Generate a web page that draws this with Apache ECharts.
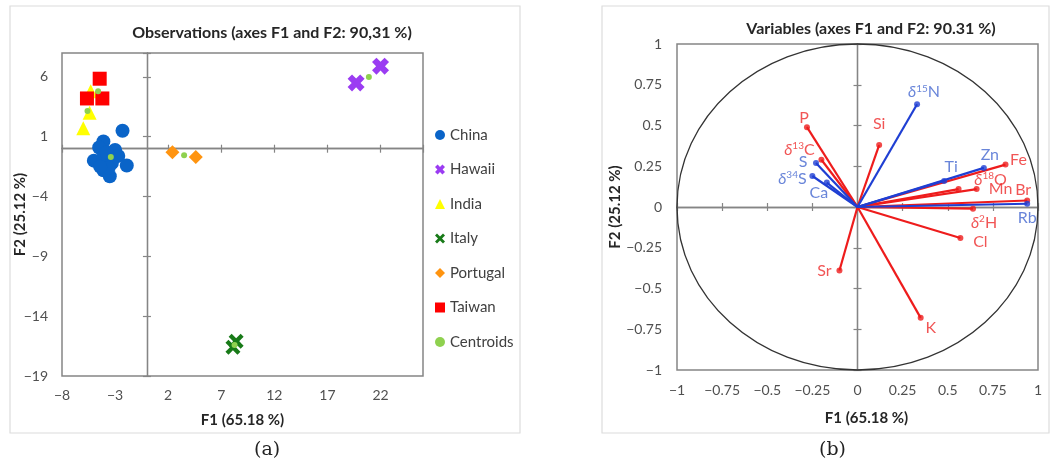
<!DOCTYPE html>
<html>
<head>
<meta charset="utf-8">
<script src="https://cdn.jsdelivr.net/npm/echarts@6/dist/echarts.min.js"></script>
<style>
html,body{margin:0;padding:0;background:#fff;}
#chart{width:1051px;height:466px;}
</style>
</head>
<body>
<div id="chart"></div>
<script>
// ---------- Data: observations (F1, F2) ----------
const china = [[-2.3,1.5],[-4.1,0.6],[-4.5,0.1],[-3.0,-0.1],[-2.7,-0.6],[-5.0,-1.0],[-4.1,-0.7],[-3.3,-1.2],[-1.9,-1.4],[-4.1,-1.8],[-3.5,-2.3],[-3.6,-1.6],[-4.4,-1.5],[-3.8,-0.3]];
const hawaii = [[19.7,5.5],[22.0,6.9]];
const india = [[-5.3,4.8],[-5.4,3.0],[-6.0,1.7]];
const italy = [[8.1,-16.6],[8.4,-16.1]];
const portugal = [[2.4,-0.3],[4.6,-0.7]];
const taiwan = [[-4.45,5.85],[-5.65,4.2],[-4.2,4.2]];
const centroids = [[-3.4,-0.7],[20.9,6.0],[-5.6,3.15],[8.25,-16.4],[3.5,-0.55],[-4.6,4.8]];

const obsXTicks = {min:-8, max:26, interval:5};
const obsYTicks = {min:-19, max:8, interval:5};

// ---------- Data: variables (loadings on F1, F2) ----------
const varNames = ['δ15N','P','Si','δ13C','S','δ34S','Ca','Zn','Fe','Ti','δ18O','Mn','Br','Rb','δ2H','Cl','Sr','K'];
const varF1    = [0.33,-0.28,0.12,-0.20,-0.23,-0.25,-0.17,0.70,0.82,0.48,0.56,0.66,0.94,0.94,0.64,0.57,-0.10,0.35];
const varF2    = [0.63,0.49,0.38,0.29,0.27,0.19,0.15,0.24,0.26,0.16,0.11,0.11,0.04,0.02,-0.01,-0.19,-0.39,-0.68];
const varGroup = ['b','r','r','r','b','b','b','b','r','b','r','r','r','b','r','r','r','r'];

const varTicks = {min:-1, max:1, interval:0.25};

// ---------- Styles ----------
const FONT = 'Lato, "Open Sans", sans-serif';
const GRAY = '#858585';
const TXT = '#505050';
const RED = '#ee1c1c', BLUE = '#1f3fd3';
const RED_T = '#ee2a2a', BLUE_T = '#4466d0';
const labelOffset = {'δ15N':[7,-12], 'P':[-3,-9], 'Si':[0,-21], 'δ13C':[-22,-10], 'S':[-13,-1], 'δ34S':[-20,3], 'Ca':[-8,10],
  'Zn':[6,-13], 'Fe':[13,-5], 'Ti':[7,-14], 'δ18O':[32,-9], 'Mn':[24,0], 'Br':[-4,-11], 'Rb':[0,14], 'δ2H':[11,14],
  'Cl':[20,4], 'Sr':[-15,0], 'K':[10,10]};
const xMark = 'path://M2,0 L5,3 L8,0 L10,2 L7,5 L10,8 L8,10 L5,7 L2,10 L0,8 L3,5 L0,2 Z';
const xMarkBold = 'path://M0,2.6 L2.6,0 L5,2.4 L7.4,0 L10,2.6 L7.6,5 L10,7.4 L7.4,10 L5,7.6 L2.6,10 L0,7.4 L2.4,5 Z';
const minus = v => String(v).replace('-', '\u2212');

function labelAxis(grid, t, pos, margin) {
  return {type:'value', gridIndex:grid, min:t.min, max:t.max, interval:t.interval, position:pos,
    axisLine:{show:false, onZero:false}, axisTick:{show:false}, splitLine:{show:false},
    axisLabel:{show:true, color:TXT, fontSize:14, fontFamily:FONT, margin:margin, formatter:minus,
      showMaxLabel: (t.max - t.min) % t.interval === 0}};
}
function zeroAxis(grid, t, pos) {
  return {type:'value', gridIndex:grid, min:t.min, max:t.max, interval:t.interval, position:pos,
    axisLine:{show:true, onZero:true, lineStyle:{color:GRAY, width:1.3}},
    axisTick:{show:true, length:4, lineStyle:{color:GRAY, width:1.2}},
    axisLabel:{show:false}, splitLine:{show:false}};
}
const nameStyle = {fontSize:15, fontWeight:'bold', color:'#262626', fontFamily:FONT};
function named(ax, gap, extra) {
  return Object.assign(ax, {name:'', nameLocation:'middle', nameGap:gap, nameMoveOverlap:false,
    nameTextStyle:Object.assign({}, nameStyle, extra || {})});
}

const xAxes = [
  Object.assign(named(labelAxis(0,obsXTicks,'bottom',12), 37), {name:'F1 (65.18 %)'}),
  zeroAxis(0,obsXTicks,'top'), zeroAxis(0,obsXTicks,'bottom'),
  Object.assign(named(labelAxis(1,varTicks,'bottom',13), 41, {padding:[0,0,0,18]}), {name:'F1 (65.18 %)'}),
  zeroAxis(1,varTicks,'top'), zeroAxis(1,varTicks,'bottom')
];
const yAxes = [
  Object.assign(named(labelAxis(0,obsYTicks,'left',14), 34), {name:'F2 (25.12 %)'}),
  zeroAxis(0,obsYTicks,'left'), zeroAxis(0,obsYTicks,'right'),
  Object.assign(named(labelAxis(1,varTicks,'left',15), 54), {name:'F2 (25.12 %)'}),
  zeroAxis(1,varTicks,'left'), zeroAxis(1,varTicks,'right')
];

function obsSeries(name, data, symbol, size, color) {
  return {type:'scatter', name:name, xAxisIndex:0, yAxisIndex:0, data:data, symbol:symbol, symbolSize:size,
    itemStyle:{color:color, opacity:1}, emphasis:{disabled:true}};
}

function fmtVar(n) {
  const m = n.match(/^δ(\d+)(\w+)$/);
  if (m) return '{d|δ}{s|' + m[1] + '}{n|' + m[2] + '}';
  return '{n|' + n + '}';
}

function varPoints(group) {
  const out = [];
  varNames.forEach((n, i) => {
    if (varGroup[i] !== group) return;
    out.push({name:n, value:[varF1[i], varF2[i]], label:{offset:labelOffset[n]}});
  });
  return out;
}
function varVectors(group) {
  const out = [];
  varNames.forEach((n, i) => { if (varGroup[i] === group) out.push([varF1[i], varF2[i]]); });
  return out;
}
function vectorSeries(group) {
  const c = group === 'r' ? RED : BLUE;
  return {type:'custom', xAxisIndex:3, yAxisIndex:3, data:varVectors(group), silent:true,
    renderItem:function(params, api){
      const p0 = api.coord([0,0]);
      const p1 = api.coord([api.value(0), api.value(1)]);
      return {type:'line', shape:{x1:p0[0], y1:p0[1], x2:p1[0], y2:p1[1]}, style:{stroke:c, lineWidth:2.2}};
    }};
}
function pointSeries(group) {
  const c = group === 'r' ? RED : BLUE;
  const tc = group === 'r' ? RED_T : BLUE_T;
  const rich = {
    d:{fontSize:16, fontStyle:'italic', color:tc, fontFamily:FONT},
    s:{fontSize:10, color:tc, fontFamily:FONT, padding:[0,0,8,0]},
    n:{fontSize:16, color:tc, fontFamily:FONT}
  };
  return {type:'scatter', xAxisIndex:3, yAxisIndex:3, data:varPoints(group), symbol:'circle', symbolSize:6,
    itemStyle:{color:c}, silent:true,
    label:{show:true, position:'inside', formatter:p => fmtVar(p.name), rich:rich, color:tc, fontSize:16}};
}

const option = {
  backgroundColor:'#fff',
  animation:false,
  title:[
    {text:'Observations (axes F1 and F2: 90,31 %)', left:267, top:20, textAlign:'center',
      textStyle:{fontSize:16, fontWeight:'bold', color:'#262626', fontFamily:FONT}},
    {text:'Variables (axes F1 and F2: 90.31 %)', left:866, top:16, textAlign:'center',
      textStyle:{fontSize:16, fontWeight:'bold', color:'#262626', fontFamily:FONT}}
  ],
  legend:{
    orient:'vertical', left:430, top:122, itemWidth:10, itemHeight:10, itemGap:18.5,
    textStyle:{fontSize:15, color:'#404040', fontFamily:FONT, lineHeight:16},
    data:[
      {name:'China', icon:'circle'}, {name:'Hawaii', icon:xMarkBold}, {name:'India', icon:'triangle'},
      {name:'Italy', icon:xMark}, {name:'Portugal', icon:'diamond'}, {name:'Taiwan', icon:'rect'},
      {name:'Centroids', icon:'circle'}
    ],
    selectedMode:false
  },
  grid:[
    {left:62, top:53, width:361, height:323, show:true, borderColor:GRAY, borderWidth:1.5, backgroundColor:'transparent'},
    {left:677, top:44, width:361, height:326, show:true, borderColor:GRAY, borderWidth:1.5, backgroundColor:'transparent'}
  ],
  xAxis:xAxes,
  yAxis:yAxes,
  graphic:[
    {type:'rect', shape:{x:10, y:6, width:510, height:427}, style:{fill:'none', stroke:'#dcdcdc', lineWidth:1.2}, silent:true, z:-1},
    {type:'rect', shape:{x:602, y:6, width:447, height:427}, style:{fill:'none', stroke:'#dcdcdc', lineWidth:1.2}, silent:true, z:-1},
    {type:'text', left:254, top:441, style:{text:'(a)', fontSize:19, fontFamily:'"DejaVu Serif", "Liberation Serif", serif', fill:'#222'}},
    {type:'text', left:819, top:441, style:{text:'(b)', fontSize:19, fontFamily:'"DejaVu Serif", "Liberation Serif", serif', fill:'#222'}}
  ],
  series:[
    obsSeries('China', china, 'circle', 14, '#0a64c8'),
    obsSeries('Hawaii', hawaii, xMarkBold, 17, '#9b3cf2'),
    obsSeries('India', india, 'triangle', 14, '#ffff00'),
    obsSeries('Italy', italy, xMark, 15, '#187a18'),
    obsSeries('Portugal', portugal, 'diamond', 14, '#ff9410'),
    obsSeries('Taiwan', taiwan, 'rect', 14, '#ff0000'),
    obsSeries('Centroids', centroids, 'circle', 6, '#8fd14f'),
    {type:'custom', xAxisIndex:3, yAxisIndex:3, data:[[0,0]], silent:true, clip:false,
      renderItem:function(params, api){
        const c = api.coord([api.value(0), api.value(1)]);
        const s = api.size([1,1]);
        return {type:'ellipse', shape:{cx:c[0], cy:c[1], rx:s[0], ry:s[1]}, style:{fill:'none', stroke:'#333', lineWidth:1.3}};
      }},
    vectorSeries('r'), vectorSeries('b'),
    pointSeries('r'), pointSeries('b')
  ]
};

const chart = echarts.init(document.getElementById('chart'), null, {renderer:'canvas'});
chart.setOption(option);
</script>
</body>
</html>
